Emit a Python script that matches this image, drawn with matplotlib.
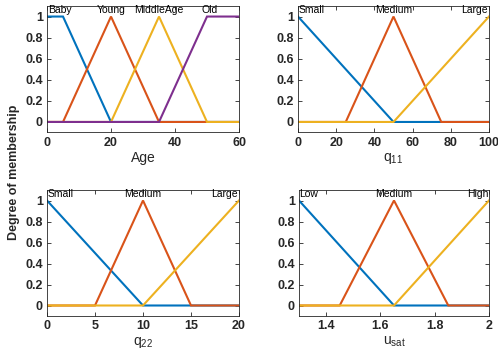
import numpy as np
import matplotlib
matplotlib.use("Agg")
import matplotlib.pyplot as plt
from matplotlib.ticker import FuncFormatter

plt.rcParams['font.family'] = ['Liberation Sans', 'DejaVu Sans']
plt.rcParams['mathtext.default'] = 'regular'

# MATLAB default line colours
colors = ['#0072BD', '#D95319', '#EDB120', '#7E2F8E']

# membership functions: breakpoints (x) and degree (y) for each variable
age_range = [0, 60]
age_names = ['Baby', 'Young', 'MiddleAge', 'Old']
age_x = [[0, 5, 20, 60], [0, 5, 20, 35, 60], [0, 20, 35, 50, 60], [0, 35, 50, 60]]
age_y = [[1, 1, 0, 0], [0, 0, 1, 0, 0], [0, 0, 1, 0, 0], [0, 0, 1, 1]]

q11_range = [0, 100]
q11_names = ['Small', 'Medium', 'Large']
q11_x = [[0, 50, 100], [0, 25, 50, 75, 100], [0, 50, 100]]
q11_y = [[1, 0, 0], [0, 0, 1, 0, 0], [0, 0, 1]]

q22_range = [0, 20]
q22_names = ['Small', 'Medium', 'Large']
q22_x = [[0, 10, 20], [0, 5, 10, 15, 20], [0, 10, 20]]
q22_y = [[1, 0, 0], [0, 0, 1, 0, 0], [0, 0, 1]]

usat_range = [1.3, 2]
usat_names = ['Low', 'Medium', 'High']
usat_x = [[1.3, 1.65, 2], [1.3, 1.45, 1.65, 1.85, 2], [1.3, 1.65, 2]]
usat_y = [[1, 0, 0], [0, 0, 1, 0, 0], [0, 0, 1]]

W, H = 498, 356
fig = plt.figure(figsize=(W / 100, H / 100), dpi=100)


def px_axes(left, right, top, bottom):
    return fig.add_axes([left / W, 1 - bottom / H, (right - left) / W, (bottom - top) / H])


def yfmt(v, pos):
    return '%g' % round(v, 2)


def draw(ax, xr, names, xs, ys, xticks, xlabel, label_pos):
    for i, (x, y) in enumerate(zip(xs, ys)):
        ax.plot(x, y, color=colors[i], lw=1.5, solid_joinstyle='miter')
    ax.set_xlim(xr)
    ax.set_ylim(-0.1, 1.1)
    ax.set_xticks(xticks)
    ax.set_yticks([0, 0.2, 0.4, 0.6, 0.8, 1])
    ax.xaxis.set_major_formatter(FuncFormatter(yfmt))
    ax.yaxis.set_major_formatter(FuncFormatter(yfmt))
    ax.tick_params(direction='in', top=True, right=True, length=3, width=0.6,
                   labelsize=9, colors='#262626', pad=3)
    for lab in ax.get_xticklabels() + ax.get_yticklabels():
        lab.set_fontweight('bold')
    for s in ax.spines.values():
        s.set_linewidth(0.6)
        s.set_color('#262626')
    ax.set_xlabel(xlabel, fontsize=10, color='#262626', labelpad=2)
    for name, (xp, ha) in zip(names, label_pos):
        ax.text(xp, 1.01, name, ha=ha, va='bottom', fontsize=7.5, color='black')


ax1 = px_axes(47, 239, 6, 132.5)
draw(ax1, age_range, age_names, age_x, age_y, [0, 20, 40, 60], 'Age',
     [(0.3, 'left'), (20, 'center'), (35, 'center'), (50.7, 'center')])

ax2 = px_axes(298, 489, 6, 132.5)
draw(ax2, q11_range, q11_names, q11_x, q11_y, [0, 20, 40, 60, 80, 100], 'q$_{11}$',
     [(0.5, 'left'), (50, 'center'), (99.5, 'right')])

ax3 = px_axes(47, 239, 190, 316)
draw(ax3, q22_range, q22_names, q22_x, q22_y, [0, 5, 10, 15, 20], 'q$_{22}$',
     [(0.1, 'left'), (10, 'center'), (19.9, 'right')])

ax4 = px_axes(299, 489, 190, 316)
draw(ax4, usat_range, usat_names, usat_x, usat_y, [1.4, 1.6, 1.8, 2], 'u$_{sat}$',
     [(1.302, 'left'), (1.65, 'center'), (1.998, 'right')])

fig.text(14 / W, 1 - 172 / H, 'Degree of membership', rotation=90, ha='center',
         va='center', fontsize=9, fontweight='bold', color='#262626')

fig.savefig('out.png', dpi=100)
